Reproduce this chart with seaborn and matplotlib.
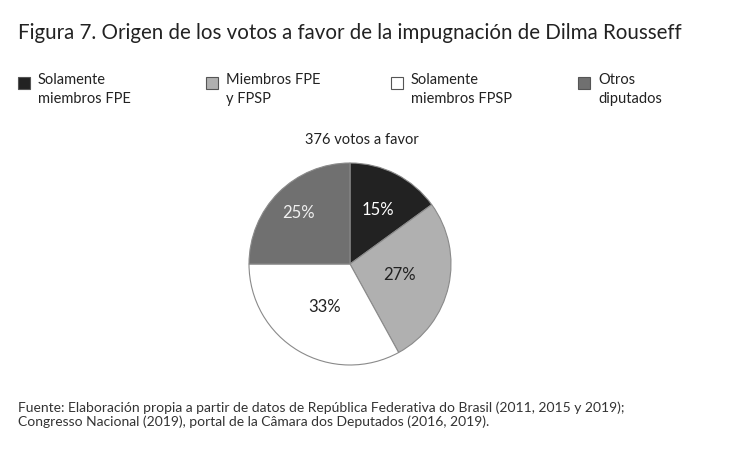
import matplotlib.pyplot as plt
import seaborn as sns
import numpy as np
from matplotlib.patches import Rectangle

# datos
categorias = ["Solamente\nmiembros FPE", "Miembros FPE\ny FPSP", "Solamente\nmiembros FPSP", "Otros\ndiputados"]
porcentajes = [15, 27, 33, 25]
colores = ["#222222", "#b0b0b0", "#ffffff", "#707070"]
color_texto = ["white", "#222222", "#222222", "#f0f0f0"]
dist_etiquetas = [0.6, 0.5, 0.5, 0.72]   # distancia radial de cada etiqueta

titulo = "Figura 7. Origen de los votos a favor de la impugnación de Dilma Rousseff"
subtitulo = "376 votos a favor"
fuente = ("Fuente: Elaboración propia a partir de datos de República Federativa do Brasil (2011, 2015 y 2019);\n"
          "Congresso Nacional (2019), portal de la Câmara dos Deputados (2016, 2019).")

sns.set_theme(style="white")
plt.rcParams['font.family'] = ['Lato', 'DejaVu Sans']

W, H = 730, 461
fig = plt.figure(figsize=(W / 100, H / 100), dpi=100)

# titulo
fig.text(18 / W, 1 - 33 / H, titulo, fontsize=14.8, color="#222222", va="center", ha="left")

# leyenda manual (4 columnas)
xs_leyenda = [18, 206, 391, 578]
for x, lab, col in zip(xs_leyenda, categorias, colores):
    fig.add_artist(Rectangle((x / W, 1 - 89 / H), 12 / W, 12 / H, transform=fig.transFigure,
                             facecolor=col, edgecolor="#555555", linewidth=0.8))
    fig.text((x + 20) / W, 1 - 73 / H, lab, fontsize=10.5, color="#222222",
             va="top", ha="left", linespacing=1.45)

# subtitulo
fig.text(362 / W, 1 - 140 / H, subtitulo, fontsize=10.5, color="#222222", ha="center", va="center")

# pastel
cx, cy, r = 350, 264, 102
ax = fig.add_axes([(cx - r) / W, (H - cy - r) / H, 2 * r / W, 2 * r / H])
wedges, textos = ax.pie(porcentajes, colors=colores, startangle=90, counterclock=False,
                        wedgeprops=dict(edgecolor="#8a8a8a", linewidth=0.8))
for w, p, d, c in zip(wedges, porcentajes, dist_etiquetas, color_texto):
    ang = np.deg2rad((w.theta1 + w.theta2) / 2)
    ax.text(d * np.cos(ang), d * np.sin(ang), f"{p}%", color=c, fontsize=12,
            ha="center", va="center")
ax.set_xlim(-1.01, 1.01)
ax.set_ylim(-1.01, 1.01)
ax.set_aspect("equal")
ax.axis("off")

# fuente
fig.text(18 / W, 1 - 401 / H, fuente, fontsize=10, color="#333333", ha="left", va="top", linespacing=1.2)

fig.savefig("out.png", dpi=100, facecolor="white")
